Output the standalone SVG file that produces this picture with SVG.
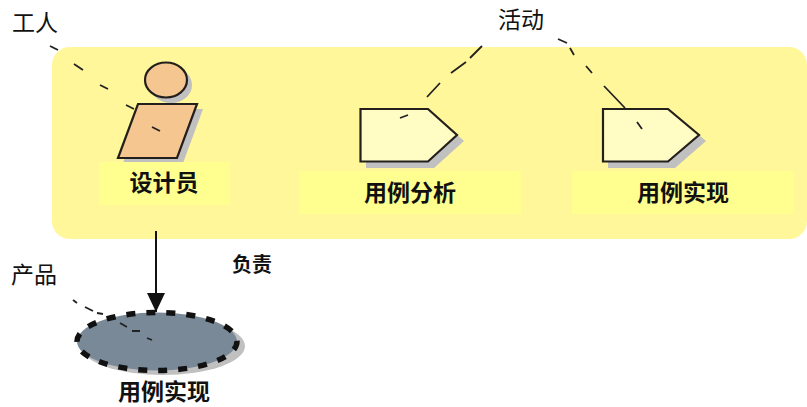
<svg xmlns="http://www.w3.org/2000/svg" width="807" height="407" viewBox="0 0 807 407">
<defs>
<style>
text{font-family:"Noto Sans CJK SC","Noto Sans CJK JP",sans-serif;font-size:23px;fill:#111;text-anchor:middle}
.b{font-weight:700}
.sh{fill:#c0c0c0}
.s{stroke:#231f1c;stroke-width:2.2;stroke-linejoin:miter}
.lb{fill:#ffff8f}
.act{fill:#fffcc4}
.wk{fill:#f5c68f}
.d{fill:none;stroke:#222;stroke-width:1.8}
</style>
<marker id="ah" markerUnits="userSpaceOnUse" markerWidth="20" markerHeight="18" refX="19" refY="9" orient="auto"><path d="M0 0L19 9L0 18Z" fill="#111"/></marker>
</defs>
<rect id="bg" width="807" height="407" fill="#fff"/>
<g id="swimlane"><rect x="52" y="47" width="755" height="192" rx="18" ry="18" fill="#fff799"/></g>
<g id="worker">
<ellipse cx="171" cy="85" rx="21" ry="18" class="sh"/>
<path d="M143 109H203L183 163H123Z" class="sh"/>
<ellipse cx="166" cy="80" rx="21" ry="17.500" class="wk s"/>
<path d="M138 104H197L177 158H118Z" class="wk s"/>
<rect x="99" y="162" width="131" height="43" class="lb"/>
<text class="b" x="164" y="191">设计员</text>
</g>
<g id="activity1">
<path d="M366 115H434L464 141L434 168H366Z" class="sh"/>
<path d="M360.500 109H428L457 135L428 161.500H360.500Z" class="act s"/>
<rect x="299" y="171" width="222" height="43" class="lb"/>
<text class="b" x="410" y="201">用例分析</text>
</g>
<g id="activity2">
<path d="M608 115H675L706 141L675 168H608Z" class="sh"/>
<path d="M603 109H668L699 135L668 161.500H603Z" class="act s"/>
<rect x="572" y="171" width="222" height="43" class="lb"/>
<text class="b" x="683" y="201">用例实现</text>
</g>
<g id="artifact">
<ellipse cx="163" cy="346" rx="82" ry="29" class="sh"/>
<ellipse cx="157" cy="341.500" rx="80" ry="29" fill="#798997" stroke="#111" stroke-width="5.500" stroke-dasharray="9 11"/>
<text class="b" x="164" y="400">用例实现</text>
</g>
<g id="connectors">
<path d="M156 231V312" stroke="#111" stroke-width="2" fill="none" marker-end="url(#ah)"/>
<path class="d" d="M50 46L58 50M74 64L83 70M100 85L108 89M126 105L134 109M152 127L160 131"/>
<path class="d" d="M427 97L440 83M451 73L466 62M470 58L482 46M400 118L408 115"/>
<path class="d" d="M558 39L567 43M570 48L574 55M586 66L592 73M604 86L625 108M637 122L642 129"/>
<path class="d" d="M73 300L77 303M85 307L93 311M97 313L103 314M120 323L127 327M132 331H140M147 338L152 340"/>
</g>
<g id="labels">
<text x="35" y="31">工人</text>
<text x="521" y="28">活动</text>
<text x="34" y="283">产品</text>
<text class="b" x="252" y="272" style="font-size:20px">负责</text>
</g>
</svg>
